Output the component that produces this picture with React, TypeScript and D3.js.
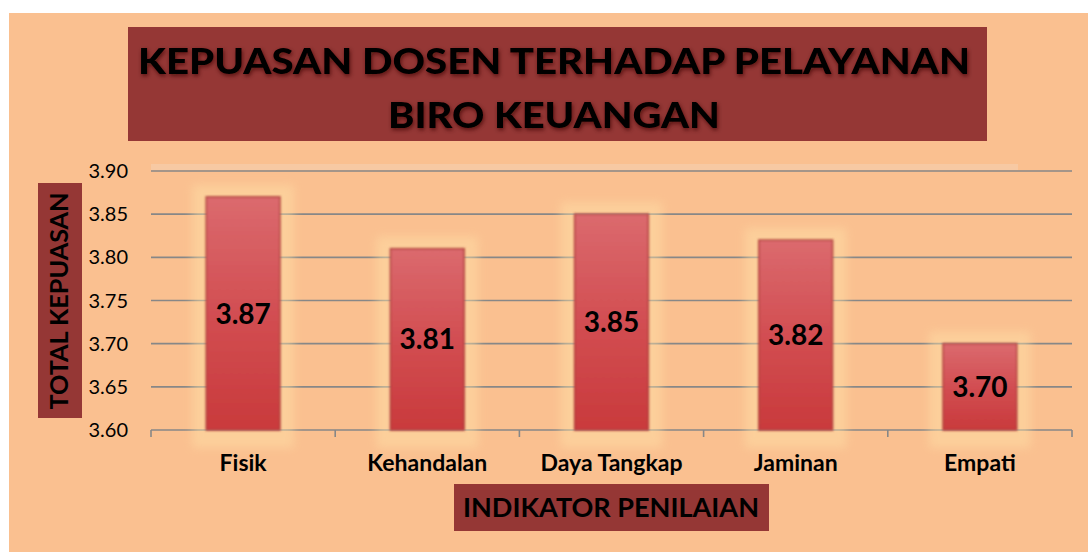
import * as d3 from 'd3'

const categories = ['Fisik', 'Kehandalan', 'Daya Tangkap', 'Jaminan', 'Empati']
const scores = [3.87, 3.81, 3.85, 3.82, 3.7]
const yTickValues = [3.6, 3.65, 3.7, 3.75, 3.8, 3.85, 3.9]
const titleLines = ['KEPUASAN DOSEN TERHADAP PELAYANAN', 'BIRO KEUANGAN']

const W = 1088
const H = 552
const PLOT = { left: 151, right: 1072, top: 171, bottom: 430 }
const FONT = 'Lato, "Open Sans", "Noto Sans", sans-serif'

const BG = '#FAC090'
const BOX = '#953735'
const GRID = '#878787'

export default function App() {
  const x = d3
    .scaleBand<string>()
    .domain(categories)
    .range([PLOT.left, PLOT.right])
    .paddingInner(0.6)
    .paddingOuter(0.3)

  const y = d3.scaleLinear().domain([3.6, 3.9]).range([PLOT.bottom, PLOT.top])

  const step = x.step()
  const boundaries = d3.range(categories.length + 1).map((i) => PLOT.left + i * step)
  const fmt = d3.format('.2f')

  return (
    <svg
      width={W}
      height={H}
      viewBox={`0 0 ${W} ${H}`}
      style={{ position: 'absolute', left: 0, top: 0, display: 'block', background: '#fff' }}
    >
      <defs>
        <linearGradient id="barFill" x1="0" y1="0" x2="0" y2="1">
          <stop offset="0" stopColor="#DB6A6E" />
          <stop offset="0.5" stopColor="#D24E52" />
          <stop offset="1" stopColor="#C93A3C" />
        </linearGradient>
        <filter id="soft" x="-20%" y="-20%" width="140%" height="140%">
          <feGaussianBlur stdDeviation="1.2" />
        </filter>
        <filter id="halo" x="-50%" y="-50%" width="200%" height="200%">
          <feGaussianBlur stdDeviation="5" />
        </filter>
        <filter id="textShadow" x="-5%" y="-30%" width="110%" height="160%">
          <feGaussianBlur in="SourceAlpha" stdDeviation="2" />
          <feOffset dx="1" dy="2" result="blur" />
          <feFlood floodColor="#3a0d0c" floodOpacity="0.7" />
          <feComposite in2="blur" operator="in" />
          <feMerge>
            <feMergeNode />
            <feMergeNode in="SourceGraphic" />
          </feMerge>
        </filter>
      </defs>

      <rect x={9} y={13} width={W - 9} height={H - 13} fill={BG} />

      {/* title */}
      <rect x={128} y={27} width={859} height={114} fill={BOX} />
      {titleLines.map((line, i) => (
        <text
          key={line}
          x={554}
          y={i === 0 ? 74 : 128}
          textAnchor="middle"
          fontFamily={FONT}
          fontWeight={900}
          fontSize={36}
          fill="#000"
          textLength={i === 0 ? 832 : 332}
          lengthAdjust="spacingAndGlyphs"
          filter="url(#textShadow)"
        >
          {line}
        </text>
      ))}

      {/* gridlines */}
      <rect x={PLOT.left} y={PLOT.top - 7} width={867} height={6} fill="#F6CBA8" opacity={0.8} />
      {yTickValues.map((t) => (
        <g key={t}>
          <line
            x1={PLOT.left}
            x2={PLOT.right}
            y1={y(t)}
            y2={y(t)}
            stroke={GRID}
            strokeWidth={1.6}
          />
          <text
            x={128}
            y={y(t)}
            dy="0.35em"
            textAnchor="end"
            fontFamily={FONT}
            fontSize={20}
            fill="#000"
          >
            {fmt(t)}
          </text>
        </g>
      ))}
      {boundaries.map((bx) => (
        <line
          key={bx}
          x1={bx}
          x2={bx}
          y1={PLOT.bottom}
          y2={PLOT.bottom + 7}
          stroke={GRID}
          strokeWidth={1.6}
        />
      ))}

      {/* bars */}
      {categories.map((c, i) => {
        const bx = x(c) || 0
        const by = y(scores[i])
        const bw = x.bandwidth()
        const bh = PLOT.bottom - by
        return (
          <g key={c}>
            <rect
              x={bx - 14}
              y={by - 12}
              width={bw + 28}
              height={bh + 30}
              fill="#FFE2A8"
              opacity={0.45}
              filter="url(#halo)"
            />
            <rect
              x={bx}
              y={by}
              width={bw}
              height={bh}
              fill="url(#barFill)"
              stroke="#B0403C"
              strokeWidth={1.5}
              filter="url(#soft)"
            />
            <text
              x={bx + bw / 2}
              y={by + bh / 2}
              dy="0.36em"
              textAnchor="middle"
              fontFamily={FONT}
              fontWeight={700}
              fontSize={28}
              fill="#000"
            >
              {fmt(scores[i])}
            </text>
            <text
              x={bx + bw / 2}
              y={471}
              textAnchor="middle"
              fontFamily={FONT}
              fontWeight={700}
              fontSize={23}
              fill="#000"
            >
              {c}
            </text>
          </g>
        )
      })}

      {/* axis titles */}
      <rect x={38} y={183} width={44} height={235} fill={BOX} />
      <text
        transform="translate(68 301) rotate(-90)"
        textAnchor="middle"
        fontFamily={FONT}
        fontWeight={700}
        fontSize={24}
        fill="#000"
        textLength={217}
        lengthAdjust="spacingAndGlyphs"
      >
        TOTAL KEPUASAN
      </text>

      <rect x={454} y={484} width={315} height={47} fill={BOX} />
      <text
        x={611}
        y={517}
        textAnchor="middle"
        fontFamily={FONT}
        fontWeight={700}
        fontSize={27}
        fill="#000"
        textLength={296}
        lengthAdjust="spacingAndGlyphs"
      >
        INDIKATOR PENILAIAN
      </text>
    </svg>
  )
}
